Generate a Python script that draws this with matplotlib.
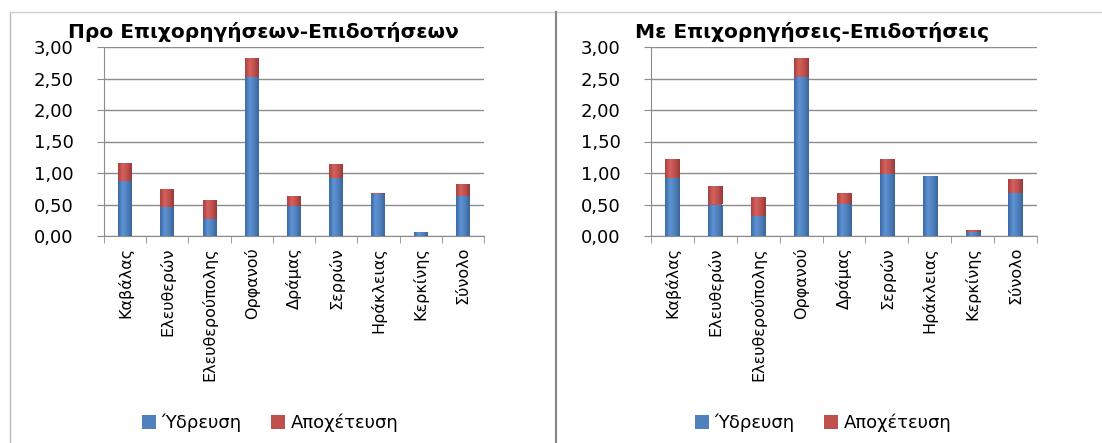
import matplotlib.pyplot as plt
from matplotlib.patches import Patch
from matplotlib.lines import Line2D
from matplotlib.colors import LinearSegmentedColormap
import numpy as np

# data
categories = ['Καβάλας', 'Ελευθερών', 'Ελευθερούπολης', 'Ορφανού', 'Δράμας',
              'Σερρών', 'Ηράκλειας', 'Κερκίνης', 'Σύνολο']
hydro_pre = [0.87, 0.46, 0.27, 2.52, 0.47, 0.92, 0.67, 0.06, 0.63]
sewer_pre = [0.29, 0.29, 0.30, 0.31, 0.16, 0.23, 0.01, 0.01, 0.20]
hydro_post = [0.92, 0.50, 0.31, 2.52, 0.51, 0.98, 0.95, 0.07, 0.68]
sewer_post = [0.31, 0.30, 0.31, 0.31, 0.17, 0.24, 0.01, 0.02, 0.22]
titles = ['Προ Επιχορηγήσεων-Επιδοτήσεων', 'Με Επιχορηγήσεις-Επιδοτήσεις']
series_names = ['Ύδρευση', 'Αποχέτευση']
yticks = [0, 0.5, 1.0, 1.5, 2.0, 2.5, 3.0]
ytick_labels = ['0,00', '0,50', '1,00', '1,50', '2,00', '2,50', '3,00']

blue = '#4F81BD'
red = '#C0504D'
grid_col = '#8C8C8C'

# cylinder-like shading across each bar
blue_cm = LinearSegmentedColormap.from_list('b', ['#3A6AA6', '#5E92D2', '#4F81BD', '#3A6599'])
red_cm = LinearSegmentedColormap.from_list('r', ['#A8403D', '#D4625F', '#C0504D', '#953A38'])
grad = np.linspace(0, 1, 64).reshape(1, -1)

plt.rcParams['font.family'] = ['DejaVu Sans']

W, H = 1102, 443
fig = plt.figure(figsize=(W / 100, H / 100), dpi=100)


def px_box(x0, x1, ytop, ybot):
    return [x0 / W, (H - ybot) / H, (x1 - x0) / W, (ybot - ytop) / H]


def shade(ax, bars, cmap):
    for b in bars:
        bx, by = b.get_x(), b.get_y()
        im = ax.imshow(grad, extent=[bx, bx + b.get_width(), by, by + b.get_height()],
                       aspect='auto', cmap=cmap, zorder=3.5, interpolation='bilinear')
        im.set_clip_path(b)


# panel frames
fig.add_artist(Line2D([10 / W, 10 / W], [0, 1 - 12 / H], color='#BBBBBB', lw=1))
fig.add_artist(Line2D([10 / W, 1], [1 - 12 / H, 1 - 12 / H], color='#D0D0D0', lw=1))
fig.add_artist(Line2D([556 / W, 556 / W], [0, 1 - 12 / H], color='#888888', lw=1.5))

panels = [
    (104, 484, hydro_pre, sewer_pre, titles[0], 263, 270),
    (651, 1037, hydro_post, sewer_post, titles[1], 812, 823),
]

x = np.arange(len(categories))
for x0, x1, hyd, sew, title, tx, lx in panels:
    ax = fig.add_axes(px_box(x0, x1, 47, 236))
    b1 = ax.bar(x, hyd, width=0.33, color=blue, linewidth=0, zorder=3)
    b2 = ax.bar(x, sew, width=0.33, bottom=hyd, color=red, linewidth=0, zorder=3)
    shade(ax, b1, blue_cm)
    shade(ax, b2, red_cm)
    ax.set_xlim(-0.5, len(categories) - 0.5)
    ax.set_ylim(0, 3)
    ax.set_yticks(yticks)
    ax.set_yticklabels(ytick_labels, fontsize=13)
    ax.yaxis.grid(True, color=grid_col, lw=1, zorder=0)
    ax.set_xticks(x)
    ax.set_xticklabels(categories, rotation=90, fontsize=11.5)
    ax.set_xticks(np.arange(len(categories) + 1) - 0.5, minor=True)
    ax.tick_params(axis='x', which='major', length=0, pad=8)
    ax.tick_params(axis='x', which='minor', length=5, color=grid_col)
    ax.tick_params(axis='y', length=5, color=grid_col, pad=17)
    for s in ['top', 'right']:
        ax.spines[s].set_visible(False)
    for s in ['left', 'bottom']:
        ax.spines[s].set_color(grid_col)
    ax.set_facecolor('none')
    fig.text(tx / W, 1 - 32 / H, title, ha='center', va='center',
             fontsize=14.5, fontweight='bold')
    handles = [Patch(facecolor=blue), Patch(facecolor=red)]
    fig.legend(handles, series_names, loc='center', bbox_to_anchor=(lx / W, 1 - 423 / H),
               ncol=2, frameon=False, fontsize=13, handlelength=0.8, handleheight=0.8,
               handletextpad=0.3, columnspacing=1.6)

fig.savefig('out.png', dpi=100)
